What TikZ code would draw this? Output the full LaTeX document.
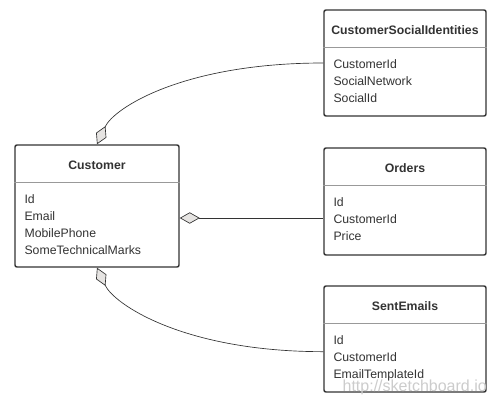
\documentclass[tikz,border=0pt]{standalone}
\usepackage{fontspec}
\setmainfont{Liberation Sans}
\usetikzlibrary{arrows.meta,calc}
\definecolor{ink}{HTML}{333333}
\definecolor{rulegray}{HTML}{999999}
\definecolor{diafill}{HTML}{E6E4E2}
\definecolor{markgray}{HTML}{CCCCCC}

\begin{document}
\begin{tikzpicture}[x=0.75pt,y=-0.75pt,
  entity/.style={draw=ink, line width=1.1pt, rounded corners=1.5pt, fill=white, inner sep=0pt},
  title/.style={font=\fontsize{9.2}{11}\selectfont\bfseries, text=ink, inner sep=0pt},
  attrs/.style={font=\fontsize{9.2}{12.75}\selectfont, text=ink, align=left, anchor=north west, inner sep=0pt},
  sep/.style={draw=rulegray, line width=1pt},
  agg/.style={draw=ink, line width=0.5pt, {Diamond[fill=diafill, length=15pt, width=8.5pt]}-}]
  \useasboundingbox (0,0) rectangle (502,407);

  % tables
  \node[entity, minimum width=123pt, minimum height=91.5pt] (cust) at (97,206) {};
  \node[entity, minimum width=121.5pt, minimum height=79.5pt] (csi) at (405,63) {};
  \node[entity, minimum width=121.5pt, minimum height=80.25pt] (ord) at (405,201.5) {};
  \node[entity, minimum width=121.5pt, minimum height=79.5pt] (sent) at (405,339) {};
  \foreach \t in {cust,csi,ord,sent}
    \draw[sep] ([yshift=-28.5pt]\t.north west) -- ([yshift=-28.5pt]\t.north east);

  % titles
  \node[title] (custtitle) at ([yshift=-15.6pt]cust.north) {Customer};
  \node[title] (csititle) at ([yshift=-16pt]csi.north) {CustomerSocialIdentities};
  \node[title] (ordtitle) at ([yshift=-16pt]ord.north) {Orders};
  \node[title] (senttitle) at ([yshift=-16pt]sent.north) {SentEmails};

  % attributes
  \node[attrs] (custattrs) at ([shift={(7.5pt,-37.3pt)}]cust.north west) {Id\\Email\\MobilePhone\\SomeTechnicalMarks};
  \node[attrs] (csiattrs) at ([shift={(7.5pt,-37.3pt)}]csi.north west) {CustomerId\\SocialNetwork\\SocialId};
  \node[attrs] (ordattrs) at ([shift={(7.5pt,-37.8pt)}]ord.north west) {Id\\CustomerId\\Price};
  \node[attrs] (sentattrs) at ([shift={(7.5pt,-37.3pt)}]sent.north west) {Id\\CustomerId\\EmailTemplateId};

  % connectors
  \draw[agg] (cust.north) .. controls +(-65:40) and +(-140,0) .. (csi.west);
  \coordinate (mid) at ([yshift=-9pt]cust.east);
  \draw[agg] (mid) -- (mid -| ord.west);
  \coordinate (sentend) at ([yshift=-9.5pt]sent.west);
  \draw[agg] (cust.south) .. controls +(65:40) and +(-140,0) .. (sentend);

  \node[font=\fontsize{12}{14}\selectfont, text=markgray, anchor=east, inner sep=0pt] (mark) at (487,387.5) {http://sketchboard.io};
\end{tikzpicture}
\end{document}
